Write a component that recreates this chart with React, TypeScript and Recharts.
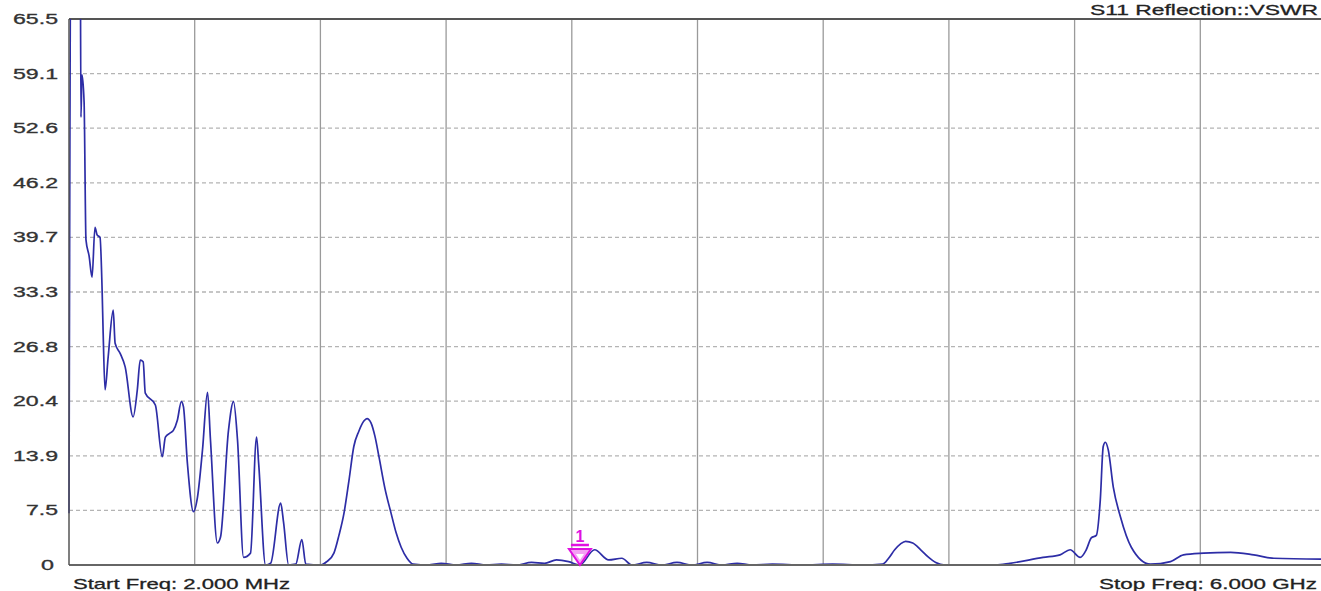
import { LineChart, Line, XAxis, YAxis, CartesianGrid, ReferenceLine, ReferenceDot } from "recharts";

// sweep 2 MHz .. 6 GHz
const FREQ_MHZ = [
  2, 12, 55, 59, 64, 74, 83, 98, 112, 126, 136, 150, 160, 165, 174, 189, 213, 222, 246, 270,
  308, 328, 342, 356, 366, 414, 447, 462, 485, 500, 519, 538, 548, 567, 596, 615, 639, 663, 677, 710,
  725, 763, 787, 806, 835, 868, 897, 907, 940, 964, 1012, 1026, 1050, 1084, 1113, 1132, 1204, 1232, 1266, 1290,
  1314, 1338, 1361, 1385, 1409, 1424, 1443, 1462, 1481, 1510, 1539, 1563, 1587, 1615, 1644, 1716, 1778, 1850, 1922, 1993,
  2065, 2137, 2209, 2271, 2328, 2386, 2439, 2510, 2577, 2640, 2688, 2759, 2831, 2903, 2975, 3047, 3118, 3190, 3262, 3358,
  3501, 3645, 3789, 3884, 3913, 3942, 3970, 3994, 4028, 4066, 4100, 4138, 4181, 4219, 4425, 4492, 4650, 4731, 4779, 4827,
  4856, 4880, 4904, 4923, 4937, 4947, 4961, 4985, 5019, 5071, 5162, 5258, 5320, 5416, 5545, 5655, 5751, 6000,
];
const VSWR = [
  7.1, 80, 80, 53.9, 58.9, 55.7, 39.4, 37.5, 35.0, 40.9, 40.0, 39.7, 33.5, 28.4, 21.7, 25.6, 31.1, 27.2, 26.0, 24.4,
  18.5, 21.7, 25.2, 25.0, 21.3, 19.9, 13.8, 16.1, 16.6, 16.9, 18.1, 20.3, 19.7, 13.0, 7.3, 9.0, 14.6, 21.4, 15.8, 3.6,
  4.3, 16.9, 20.3, 15.8, 1.9, 2.4, 16.1, 13.0, 1.0, 1.2, 8.3, 6.0, 1.0, 1.1, 4.0, 1.1, 1.0, 1.4, 2.4, 4.5,
  7.1, 11.0, 15.0, 16.8, 18.0, 18.3, 17.8, 16.2, 13.8, 10.0, 7.1, 4.8, 3.1, 1.8, 1.1, 1.0, 1.2, 1.0, 1.2, 1.0,
  1.1, 1.0, 1.3, 1.2, 1.6, 1.4, 1.0, 2.8, 1.6, 1.8, 1.0, 1.3, 1.0, 1.3, 1.0, 1.3, 1.0, 1.2, 1.0, 1.1,
  1.0, 1.1, 1.0, 1.1, 1.8, 2.8, 3.5, 3.8, 3.6, 2.8, 2.0, 1.3, 1.0, 1.0, 1.0, 1.2, 1.9, 2.2, 2.8, 1.9,
  2.8, 4.2, 4.5, 8.7, 15.0, 15.5, 14.6, 10.2, 6.7, 3.1, 1.1, 1.4, 2.2, 2.4, 2.5, 2.2, 1.8, 1.7,
];

const Y_TICKS = [1, 7.45, 13.9, 20.35, 26.8, 33.25, 39.7, 46.15, 52.6, 59.05, 65.5];
const Y_LABELS = ["0", "7.5", "13.9", "20.4", "26.8", "33.3", "39.7", "46.2", "52.6", "59.1", "65.5"];
const X_TICKS = [2, 601.8, 1201.6, 1801.4, 2401.2, 3001, 3600.8, 4200.6, 4800.4, 5400.2, 6000];

const MARKER_FREQ = 2440;
const MARKER_VSWR = 1.0;

const data = FREQ_MHZ.map((f, i) => ({ f, v: VSWR[i] }));

const FONT = '"Liberation Sans", Arial, sans-serif';

// the source bitmap is stretched sideways, so text gets a forced width
function textWidth(s: string) {
  let w = 0;
  for (const ch of s) w += ch === "." ? 6 : 13;
  return w;
}

function YTick(props: any) {
  const label = Y_LABELS[props.index] ?? "";
  const right = label === "0" ? 54 : 58;
  return (
    <text
      x={right}
      y={props.y + 5}
      textAnchor="end"
      fontFamily={FONT}
      fontSize={14}
      fill="#333"
      stroke="#333"
      strokeWidth={0.3}
      textLength={textWidth(label)}
      lengthAdjust="spacingAndGlyphs"
    >
      {label}
    </text>
  );
}

function Marker(props: any) {
  const { cx, cy } = props;
  if (cx == null || cy == null) return null;
  return (
    <g>
      <polygon
        points={`${cx - 11},${cy - 16} ${cx + 11},${cy - 16} ${cx},${cy}`}
        fill="#f4a0f4"
        stroke="#e010e0"
        strokeWidth={2}
      />
      <polygon
        points={`${cx - 4},${cy - 11} ${cx + 4},${cy - 11} ${cx},${cy - 5}`}
        fill="#fff"
      />
      <line x1={cx - 9} y1={cy - 20} x2={cx + 9} y2={cy - 20} stroke="#e010e0" strokeWidth={2.5} />
      <text
        x={cx}
        y={cy - 23}
        textAnchor="middle"
        fontFamily={FONT}
        fontWeight="bold"
        fontSize={16}
        fill="#e010e0"
      >
        1
      </text>
    </g>
  );
}

export default function App() {
  return (
    <div style={{ position: "absolute", left: 0, top: 0, width: 1321, height: 591, background: "#fff", overflow: "hidden" }}>
      <LineChart
        width={1321}
        height={591}
        data={data}
        margin={{ top: 19, right: -5, bottom: 0, left: 0 }}
      >
        <CartesianGrid vertical={false} stroke="#b4b4b4" strokeWidth={1.3} strokeDasharray="4 3" />
        {X_TICKS.slice(1, -1).map((t) => (
          <ReferenceLine key={t} x={t} stroke="#9a9a9a" strokeWidth={1.3} />
        ))}
        <XAxis
          type="number"
          dataKey="f"
          domain={[2, 6000]}
          ticks={X_TICKS}
          tick={false}
          tickLine={false}
          height={26}
          axisLine={{ stroke: "#666", strokeWidth: 2 }}
        />
        <YAxis
          type="number"
          domain={[1, 65.5]}
          ticks={Y_TICKS}
          allowDataOverflow
          width={69}
          tickLine={false}
          tick={<YTick />}
          axisLine={{ stroke: "#555", strokeWidth: 1.5 }}
        />
        <ReferenceLine y={65.5} stroke="#555" strokeWidth={2} />
        <Line
          type="monotone"
          dataKey="v"
          stroke="#2d2da6"
          strokeWidth={1.7}
          dot={false}
          isAnimationActive={false}
        />
        <ReferenceDot x={MARKER_FREQ} y={MARKER_VSWR} r={0} shape={<Marker />} />
      </LineChart>
      <svg
        width={1321}
        height={591}
        style={{ position: "absolute", left: 0, top: 0, pointerEvents: "none" }}
      >
        <text x={1318} y={15} textAnchor="end" fontFamily={FONT} fontSize={15} fill="#222"
          stroke="#222" strokeWidth={0.3} textLength={228} lengthAdjust="spacingAndGlyphs">
          S11 Reflection::VSWR
        </text>
        <text x={73} y={589} fontFamily={FONT} fontSize={15} fill="#222"
          stroke="#222" strokeWidth={0.3} textLength={217} lengthAdjust="spacingAndGlyphs">
          Start Freq: 2.000 MHz
        </text>
        <text x={1317} y={589} textAnchor="end" fontFamily={FONT} fontSize={15} fill="#222"
          stroke="#222" strokeWidth={0.3} textLength={218} lengthAdjust="spacingAndGlyphs">
          Stop Freq: 6.000 GHz
        </text>
      </svg>
    </div>
  );
}
